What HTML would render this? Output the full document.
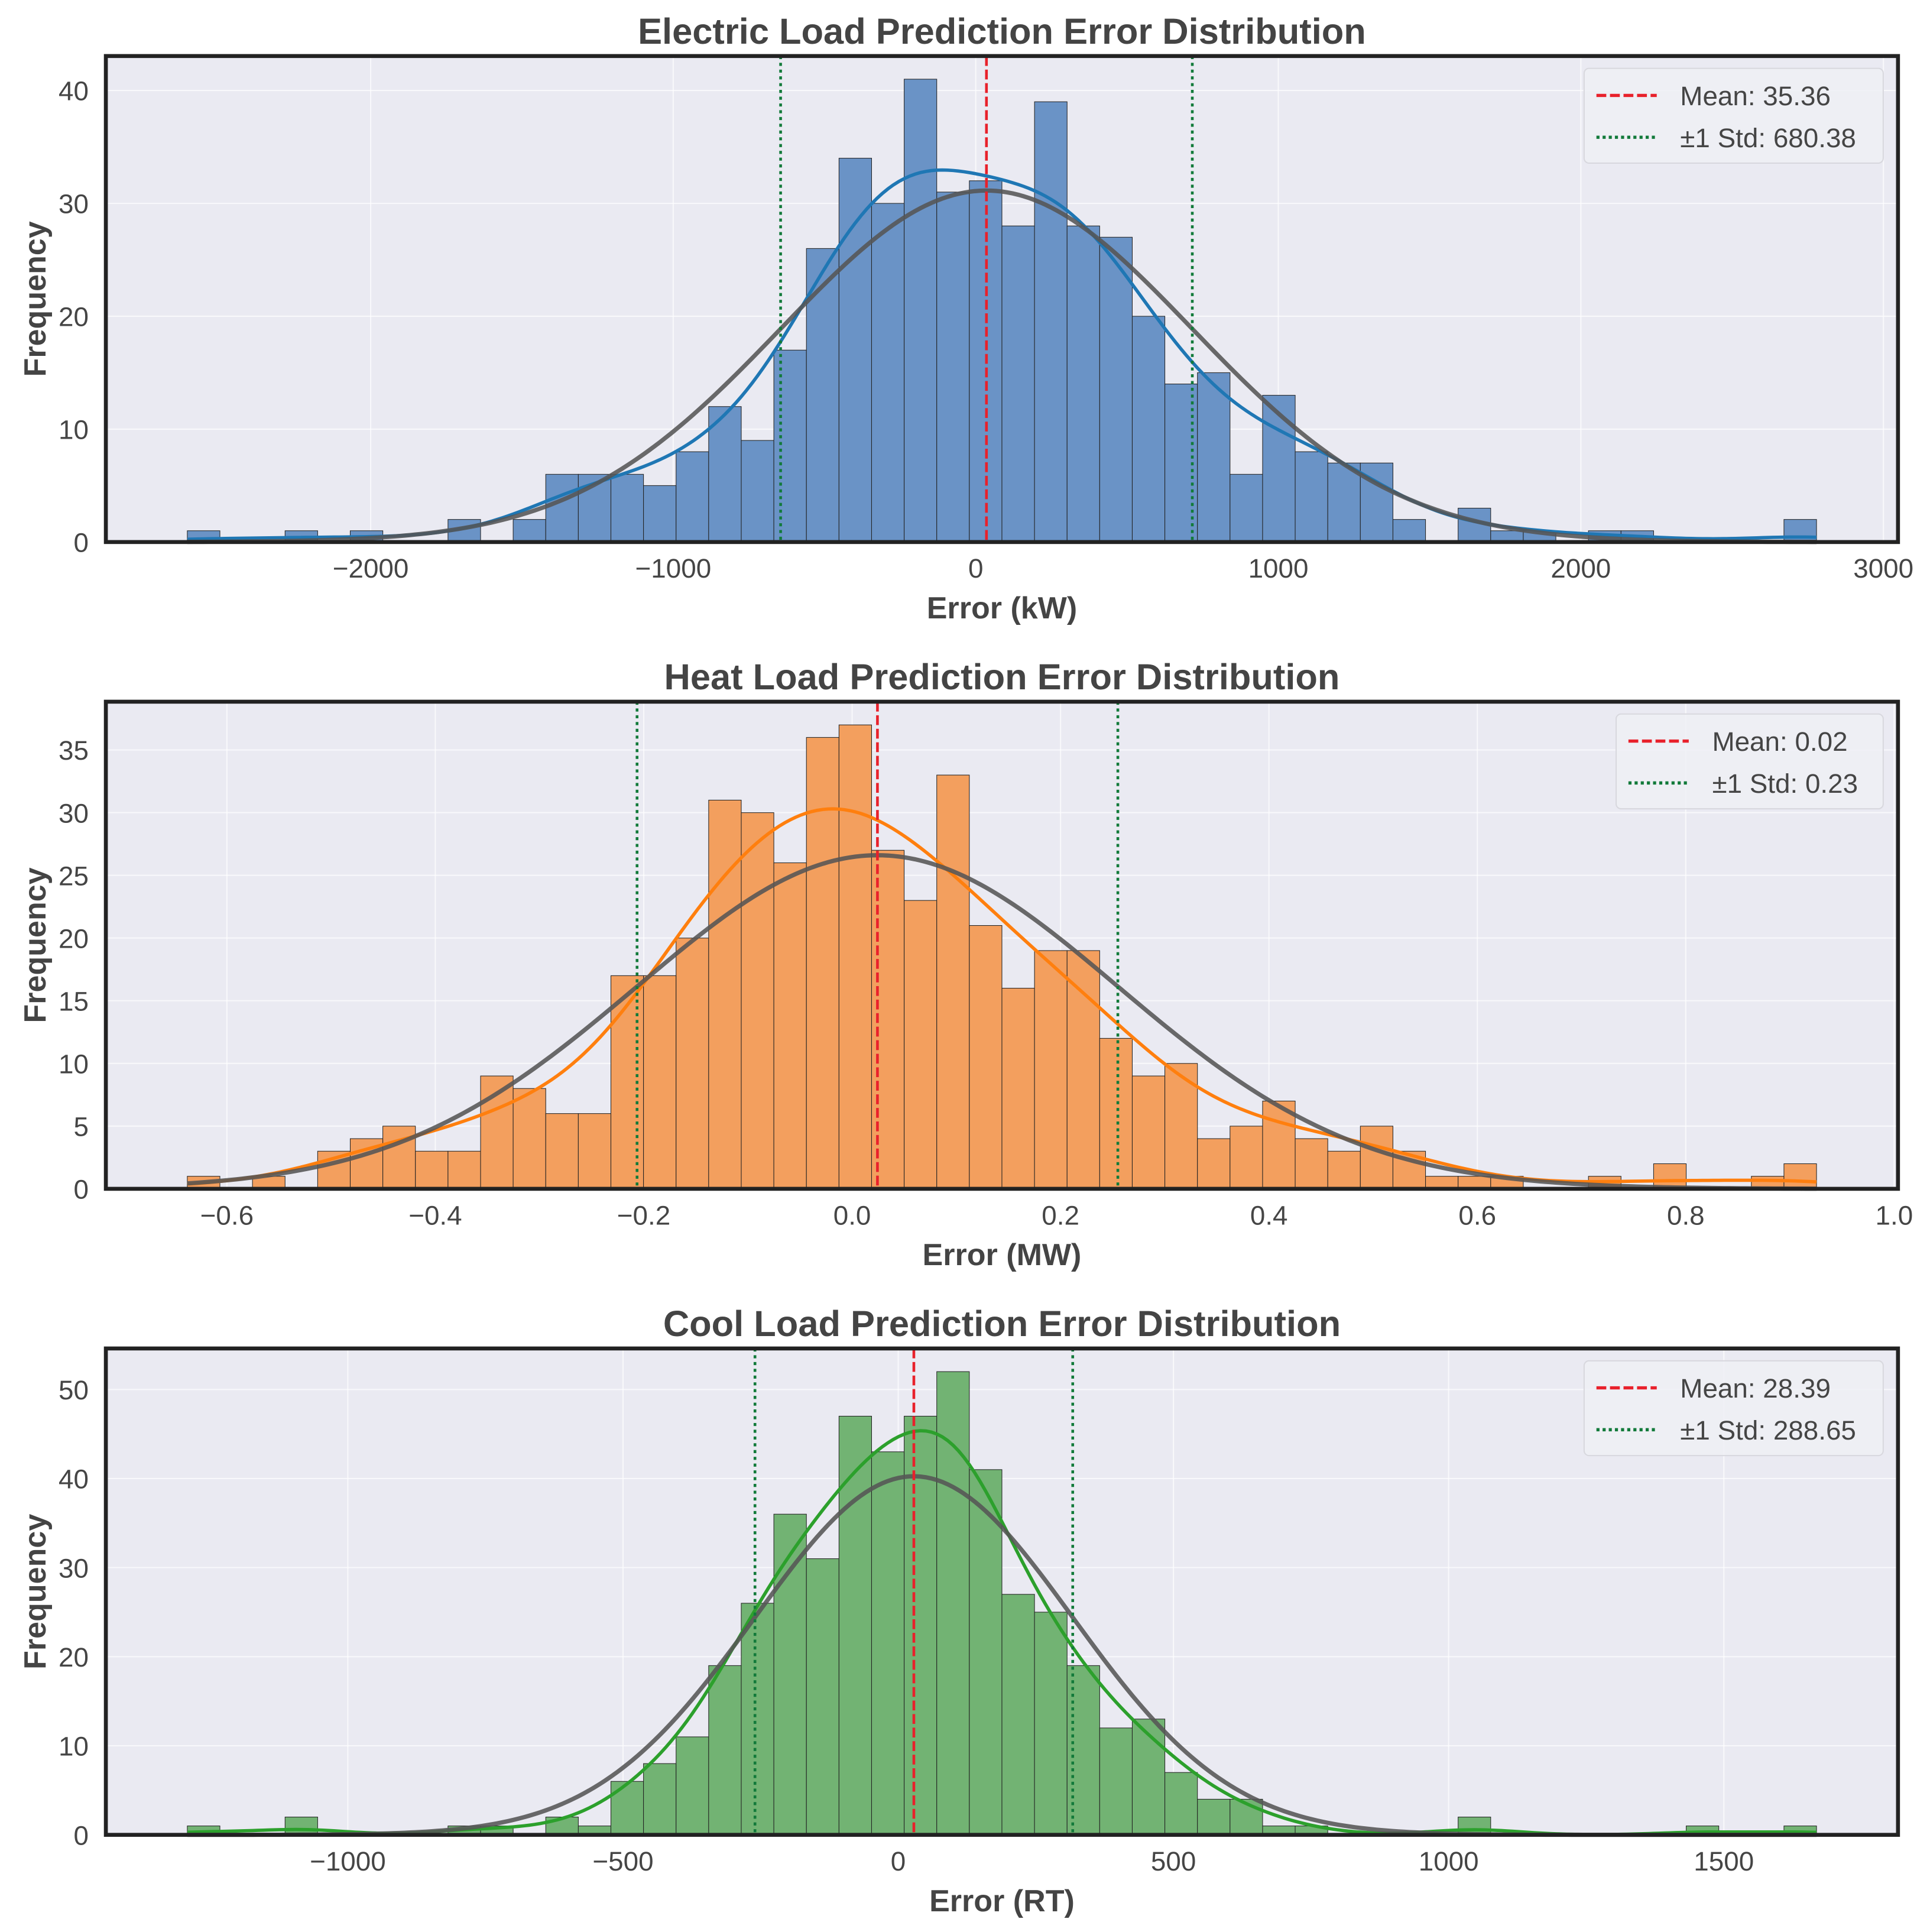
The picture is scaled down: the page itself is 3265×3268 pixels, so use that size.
<!DOCTYPE html>
<html><head><meta charset="utf-8">
<style>
html,body{margin:0;padding:0;background:#fff;}
svg{display:block;font-family:"Liberation Sans",Arial,sans-serif;}
</style></head>
<body>
<svg id="fig" xmlns="http://www.w3.org/2000/svg" width="3265" height="3268" viewBox="0 0 1568 1569.4"></svg>
<script>
// ---- Data ----
const elecCounts = [1,0,0,1,0,1,0,0,2,0,2,6,6,6,5,8,12,9,17,26,34,30,41,31,32,28,39,28,27,20,14,15,6,13,8,7,7,2,0,3,1,1,0,1,1,0,0,0,0,2];
const heatCounts = [1,0,1,0,3,4,5,3,3,9,8,6,6,17,17,20,31,30,26,36,37,27,23,33,21,16,19,19,12,9,10,4,5,7,4,3,5,3,1,1,1,0,0,1,0,2,0,0,1,2];
const coolCounts = [1,0,0,2,0,0,0,0,1,1,0,2,1,6,8,11,19,26,36,31,47,43,47,52,41,27,25,19,12,13,7,4,4,1,1,0,0,0,0,2,0,0,0,0,0,0,1,0,0,1];
const binStarts = [-2606, -0.638, -1291.6];
const binWidths = [107.7, 0.03127, 59.2];
const means = [35.36, 0.0243, 28.39];
const stds = [680.38, 0.2307, 288.65];
const meanLabels = ["Mean: 35.36", "Mean: 0.02", "Mean: 28.39"];
const stdLabels = ["±1 Std: 680.38", "±1 Std: 0.23", "±1 Std: 288.65"];
const titles = ["Electric Load Prediction Error Distribution","Heat Load Prediction Error Distribution","Cool Load Prediction Error Distribution"];
const xLabels = ["Error (kW)","Error (MW)","Error (RT)"];
const xTicks = [[-2000,-1000,0,1000,2000,3000],[-0.6,-0.4,-0.2,0.0,0.2,0.4,0.6,0.8,1.0],[-1000,-500,0,500,1000,1500]];
const xTickDec = [0,1,0];
const yTicks = [[0,10,20,30,40],[0,5,10,15,20,25,30,35],[0,10,20,30,40,50]];
const names = ["electric","heat","cool"];

const NS="http://www.w3.org/2000/svg";
const svg=document.getElementById('fig');
function mk(tag,attrs,parent){const e=document.createElementNS(NS,tag);for(const k in attrs)e.setAttribute(k,attrs[k]);(parent||svg).appendChild(e);return e;}

const panelTops=[45.5,570,1095.4], panelBots=[440.3,965.7,1490.5];
const L=86,R=1542;
const barFill=["#6a93c6","#f39f5e","#72b373"];
const kdeCol=["#1f77b4","#ff7f0e","#2ca02c"];
const txtCol="#454545";

[elecCounts,heatCounts,coolCounts].forEach((counts,p)=>{
  const g=mk('g',{});
  
  
  const T=panelTops[p],B=panelBots[p];
  const n=counts.length,bs=binStarts[p],bw=binWidths[p];
  const dmin=bs,dmax=bs+n*bw,pad=(dmax-dmin)*0.05;
  const x0=dmin-pad,x1=dmax+pad;
  const ymax=Math.max(...counts)*1.05;
  const X=v=>L+(v-x0)/(x1-x0)*(R-L);
  const Y=v=>B-v/ymax*(B-T);
  const bg=mk('rect',{x:L,y:T,width:R-L,height:B-T,fill:'#eaeaf2'},g);
  
  
  xTicks[p].forEach(t=>{if(X(t)>L&&X(t)<R)mk('line',{x1:X(t),x2:X(t),y1:T,y2:B,stroke:'#ffffff','stroke-width':1,opacity:0.7},g);});
  yTicks[p].forEach(t=>{mk('line',{x1:L,x2:R,y1:Y(t),y2:Y(t),stroke:'#ffffff','stroke-width':1,opacity:0.7},g);});
  counts.forEach((c,i)=>{
    if(c<=0)return;
    const r=mk('rect',{x:X(bs+i*bw),y:Y(c),width:X(bs+(i+1)*bw)-X(bs+i*bw),height:B-Y(c),fill:barFill[p],stroke:'#222','stroke-width':0.5},g);
    
    
  });
  let N=0,s=0;counts.forEach((c,i)=>{N+=c;s+=c*(bs+(i+0.5)*bw);});
  const mu=s/N;let v=0;counts.forEach((c,i)=>{const d=bs+(i+0.5)*bw-mu;v+=c*d*d;});
  const sd=Math.sqrt(v/(N-1)),h=sd*Math.pow(N,-0.2);
  let kd='',nd='';
  for(let k=0;k<=300;k++){
    const xv=dmin+(dmax-dmin)*k/300;
    let dens=0;counts.forEach((c,i)=>{const z=(xv-(bs+(i+0.5)*bw))/h;dens+=c*Math.exp(-0.5*z*z);});
    dens=dens/(N*h*Math.sqrt(2*Math.PI));
    const kv=dens*N*bw;
    const z2=(xv-means[p])/stds[p];
    const nv=N*bw*Math.exp(-0.5*z2*z2)/(stds[p]*Math.sqrt(2*Math.PI));
    kd+=(k?'L':'M')+X(xv).toFixed(2)+','+Y(kv).toFixed(2);
    nd+=(k?'L':'M')+X(xv).toFixed(2)+','+Y(nv).toFixed(2);
  }
  const kp=mk('path',{d:kd,fill:'none',stroke:kdeCol[p],'stroke-width':2.7},g);
  
  
  const np=mk('path',{d:nd,fill:'none',stroke:'#555','stroke-opacity':0.88,'stroke-width':3.5},g);
  
  
  const ml=mk('line',{x1:X(means[p]),x2:X(means[p]),y1:T,y2:B,stroke:'#e8212b','stroke-width':2.2,'stroke-dasharray':'8,3'},g);
  
  
  [-1,1].forEach(sg=>{
    const sl=mk('line',{x1:X(means[p]+sg*stds[p]),x2:X(means[p]+sg*stds[p]),y1:T,y2:B,stroke:'#127a3a','stroke-width':2.2,'stroke-dasharray':'2.5,3'},g);
    
    
  });
  const sp=mk('rect',{x:L,y:T,width:R-L,height:B-T,fill:'none',stroke:'#222','stroke-width':3.2},g);
  
  
  xTicks[p].forEach(t=>{
    const tx=mk('text',{x:X(t),y:B+29,'text-anchor':'middle','font-size':22,fill:txtCol},g);
    tx.textContent=(t<0?'−':'')+Math.abs(t).toFixed(xTickDec[p]);
    
    
  });
  yTicks[p].forEach(t=>{
    const ty=mk('text',{x:L-14,y:Y(t)+8,'text-anchor':'end','font-size':22,fill:txtCol},g);
    ty.textContent=String(t);
    
    
  });
  const tt=mk('text',{x:(L+R)/2,y:T-10,'text-anchor':'middle','font-size':29.5,'font-weight':'bold',fill:'#444'},g);
  tt.textContent=titles[p];
  
  
  const xl=mk('text',{x:(L+R)/2,y:B+62,'text-anchor':'middle','font-size':25,'font-weight':'bold',fill:'#444'},g);
  xl.textContent=xLabels[p];
  
  
  const cy=(T+B)/2;
  const yl=mk('text',{x:37,y:cy,'text-anchor':'middle','font-size':25,'font-weight':'bold',fill:'#444',transform:`rotate(-90 37 ${cy})`},g);
  yl.textContent='Frequency';
  
  
  const lw=p===1?217:243, lx=1530-lw, ly=T+10;
  const lg=mk('g',{},g);
  
  
  mk('rect',{x:lx,y:ly,width:lw,height:77,rx:4,fill:'#eef0f5','fill-opacity':0.85,stroke:'#d8d8de','stroke-width':1},lg);
  mk('line',{x1:lx+10,x2:lx+59,y1:ly+22,y2:ly+22,stroke:'#e8212b','stroke-width':2.6,'stroke-dasharray':'8,3'},lg);
  mk('line',{x1:lx+10,x2:lx+59,y1:ly+56,y2:ly+56,stroke:'#127a3a','stroke-width':2.6,'stroke-dasharray':'2.5,2.5'},lg);
  const t1=mk('text',{x:lx+78,y:ly+30,'font-size':22,fill:txtCol},lg);t1.textContent=meanLabels[p];
  
  
  const t2=mk('text',{x:lx+78,y:ly+64,'font-size':22,fill:txtCol},lg);t2.textContent=stdLabels[p];
  
  
});
</script>
</body></html>
